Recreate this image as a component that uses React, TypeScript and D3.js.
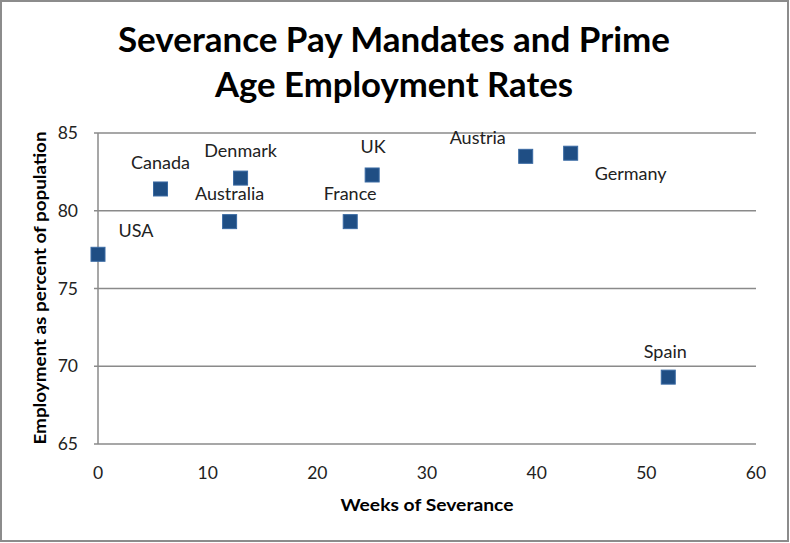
import React, { useEffect, useRef } from 'react';
import * as d3 from 'd3';

// Data
const countries = ['USA', 'Canada', 'Australia', 'Denmark', 'France', 'UK', 'Austria', 'Germany', 'Spain'];
const severanceWeeks = [0, 5.7, 12, 13, 23, 25, 39, 43.1, 52];
const employmentRate = [77.2, 81.4, 79.3, 82.1, 79.3, 82.3, 83.5, 83.7, 69.3];
const xTicks = [0, 10, 20, 30, 40, 50, 60];
const yTicks = [65, 70, 75, 80, 85];

const titleLines = ['Severance Pay Mandates and Prime', 'Age Employment Rates'];
const xTitle = 'Weeks of Severance';
const yTitle = 'Employment as percent of population';

// where each label sits relative to its marker (px)
const labelOffsets: Record<string, [number, number]> = {
  USA: [38, -17],
  Canada: [0, -20],
  Australia: [0, -22],
  Denmark: [0, -21],
  France: [0, -22],
  UK: [1, -22],
  Austria: [-48, -12],
  Germany: [60, 27],
  Spain: [-3, -19],
};

const width = 790;
const height = 543;
const font = "Lato, 'Open Sans', sans-serif";
const gridColor = '#8a8a8a';
const markerColor = '#1f4e84';

const App: React.FC = () => {
  const svgRef = useRef<SVGSVGElement>(null);

  useEffect(() => {
    document.body.style.margin = '0';
    if (!svgRef.current) return;

    const margin = { top: 133, right: 34, bottom: 99, left: 98 };
    const innerWidth = width - margin.left - margin.right;
    const innerHeight = height - margin.top - margin.bottom;

    d3.select(svgRef.current).selectAll('*').remove();

    const root = d3.select(svgRef.current)
      .attr('width', width)
      .attr('height', height);

    root.append('rect')
      .attr('x', 1)
      .attr('y', 1)
      .attr('width', width - 3)
      .attr('height', height - 3)
      .attr('fill', '#fff')
      .attr('stroke', '#8c8c8c')
      .attr('stroke-width', 2);

    // Title
    root.append('g')
      .selectAll('text')
      .data(titleLines)
      .enter()
      .append('text')
      .attr('x', 394)
      .attr('y', (_, i) => 52 + i * 45)
      .attr('text-anchor', 'middle')
      .attr('font-family', font)
      .attr('font-weight', 700)
      .attr('font-size', 35)
      .attr('textLength', (_, i) => (i === 0 ? 552 : 358))
      .attr('lengthAdjust', 'spacingAndGlyphs')
      .attr('fill', '#000')
      .text(d => d);

    const svg = root.append('g')
      .attr('transform', `translate(${margin.left},${margin.top})`);

    const x = d3.scaleLinear().domain([0, 60]).range([0, innerWidth]);
    const y = d3.scaleLinear().domain([65, 85]).range([innerHeight, 0]);

    // Gridlines
    svg.selectAll('line.grid')
      .data(yTicks)
      .enter()
      .append('line')
      .attr('class', 'grid')
      .attr('x1', -4)
      .attr('x2', innerWidth)
      .attr('y1', d => y(d))
      .attr('y2', d => y(d))
      .attr('stroke', gridColor)
      .attr('stroke-width', 1.5);

    svg.append('line')
      .attr('x1', 0)
      .attr('x2', 0)
      .attr('y1', 0)
      .attr('y2', innerHeight)
      .attr('stroke', gridColor)
      .attr('stroke-width', 1.5);

    // Tick labels
    svg.selectAll('text.ytick')
      .data(yTicks)
      .enter()
      .append('text')
      .attr('class', 'ytick')
      .attr('x', -20)
      .attr('y', d => y(d))
      .attr('dy', '0.35em')
      .attr('text-anchor', 'end')
      .attr('font-family', font)
      .attr('font-size', 17.5)
      .attr('fill', '#222')
      .text(d => d);

    svg.selectAll('text.xtick')
      .data(xTicks)
      .enter()
      .append('text')
      .attr('class', 'xtick')
      .attr('x', d => x(d))
      .attr('y', innerHeight + 35)
      .attr('text-anchor', 'middle')
      .attr('font-family', font)
      .attr('font-size', 17.5)
      .attr('fill', '#222')
      .text(d => d);

    // Axis titles
    svg.append('text')
      .attr('x', innerWidth / 2)
      .attr('y', innerHeight + 67)
      .attr('text-anchor', 'middle')
      .attr('font-family', font)
      .attr('font-weight', 700)
      .attr('font-size', 17.5)
      .attr('textLength', 173)
      .attr('lengthAdjust', 'spacingAndGlyphs')
      .attr('fill', '#000')
      .text(xTitle);

    svg.append('text')
      .attr('transform', `translate(${46 - margin.left},${288 - margin.top}) rotate(-90)`)
      .attr('text-anchor', 'middle')
      .attr('font-family', font)
      .attr('font-weight', 700)
      .attr('font-size', 17.5)
      .attr('textLength', 313)
      .attr('lengthAdjust', 'spacingAndGlyphs')
      .attr('fill', '#000')
      .text(yTitle);

    const points = countries.map((c, i) => ({
      name: c,
      weeks: severanceWeeks[i],
      rate: employmentRate[i],
    }));

    // Markers
    const size = 14;
    svg.selectAll('rect.marker')
      .data(points)
      .enter()
      .append('rect')
      .attr('class', 'marker')
      .attr('x', d => x(d.weeks) - size / 2)
      .attr('y', d => y(d.rate) - size / 2)
      .attr('width', size)
      .attr('height', size)
      .attr('fill', markerColor)
      .attr('stroke', '#3a6aa3')
      .attr('stroke-width', 1);

    // Data labels
    svg.selectAll('text.label')
      .data(points)
      .enter()
      .append('text')
      .attr('class', 'label')
      .attr('x', d => x(d.weeks) + labelOffsets[d.name][0])
      .attr('y', d => y(d.rate) + labelOffsets[d.name][1])
      .attr('text-anchor', 'middle')
      .attr('font-family', font)
      .attr('font-size', 18)
      .attr('fill', '#222')
      .text(d => d.name);
  }, []);

  return <svg ref={svgRef} style={{ display: 'block', background: '#fff' }}></svg>;
};

export default App;
